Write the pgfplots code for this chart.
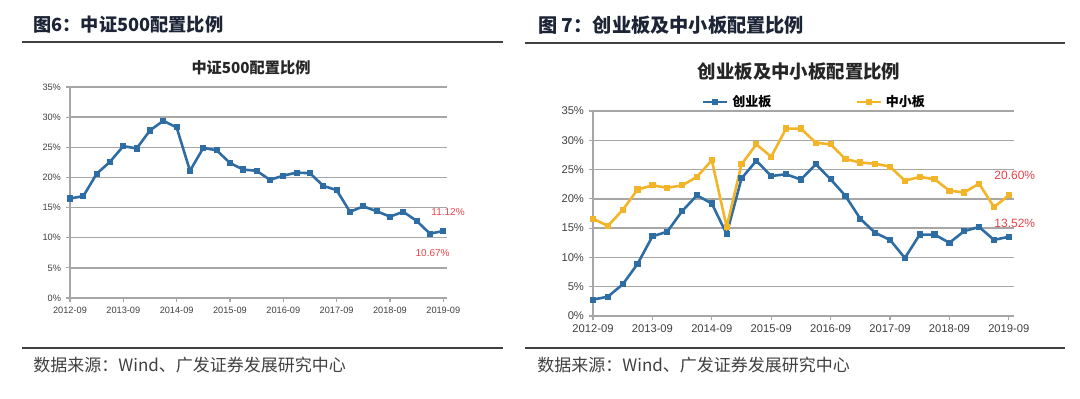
\documentclass[border=0pt]{standalone}
\usepackage{pgfplots}
\pgfplotsset{compat=1.18}
\usepackage{fontspec}
\setmainfont{Liberation Sans}
\newfontfamily\cjk{Noto Sans CJK SC}
\definecolor{lblue}{HTML}{2E6DA4}
\definecolor{lgold}{HTML}{F2B52A}
\definecolor{lred}{HTML}{E8424A}
\definecolor{gridc}{HTML}{A6A6A6}
\definecolor{tickc}{HTML}{404040}
\definecolor{headc}{HTML}{1C2435}
\begin{document}
\begin{tikzpicture}
\useasboundingbox (0,0) rectangle (540pt,199pt);
\pgfplotsset{
  myax/.style={
    scale only axis, clip=false,
    ymin=0, ymax=35, ytick={0,5,...,35},
    yticklabel={\pgfmathprintnumber{\tick}\%},
    xtick={0,4,...,28},
    xticklabels={2012-09,2013-09,2014-09,2015-09,2016-09,2017-09,2018-09,2019-09},
    axis x line*=bottom, axis y line*=left,
    axis line style={gridc, line width=0.7pt},
    tick style={gridc, line width=0.6pt},
    tick align=outside, major tick length=2pt,
    ymajorgrids, grid style={gridc, line width=0.7pt},
    /pgf/number format/assume math mode=true,
    ticklabel style={text=tickc},
    xticklabel style={yshift=1pt},
    yticklabel style={xshift=1pt},
  },
  myline/.style={line width=1.3pt, mark=square*, mark size=0.9pt, mark options={solid}},
}
% headers
\node[anchor=west, inner sep=0pt, text=headc, font=\cjk\bfseries\fontsize{9.1}{11}\selectfont] at (16.5pt,186.5pt) {图6：中证500配置比例};
\node[anchor=west, inner sep=0pt, text=headc, font=\cjk\bfseries\fontsize{9.6}{11}\selectfont] at (269pt,186.5pt) {图 7：创业板及中小板配置比例};
\draw[line width=1pt, black!75] (11pt,178pt) -- (251.5pt,178pt);
\draw[line width=1pt, black!75] (262.5pt,177.5pt) -- (532.5pt,177.5pt);
\draw[line width=1pt, black!75] (11pt,25pt) -- (251.5pt,25pt);
\draw[line width=1pt, black!75] (262.5pt,25pt) -- (532.5pt,25pt);
\node[anchor=west, inner sep=0pt, text=black!75, font=\cjk\fontsize{8.5}{10}\selectfont] at (16.5pt,16.5pt) {数据来源：Wind、广发证券发展研究中心};
\node[anchor=west, inner sep=0pt, text=black!75, font=\cjk\fontsize{8.5}{10}\selectfont] at (268.5pt,16.5pt) {数据来源：Wind、广发证券发展研究中心};
% chart titles
\node[text=black!85, font=\cjk\bfseries\fontsize{7.6}{9}\selectfont] at (125.5pt,165pt) {中证500配置比例};
\node[text=black!85, font=\cjk\bfseries\fontsize{9.2}{11}\selectfont] at (399.5pt,163pt) {创业板及中小板配置比例};

% left chart
\begin{axis}[myax, at={(35pt,50pt)}, anchor=south west,
  width=188.5pt, height=105.5pt, xmin=0, xmax=28.28,
  ticklabel style={font=\fontsize{4.6}{5}\selectfont}]
\addplot[myline, lblue] coordinates {
(0,16.5)(1,16.9)(2,20.6)(3,22.6)(4,25.2)(5,24.8)(6,27.8)(7,29.4)(8,28.3)
(9,21.1)(10,24.9)(11,24.5)(12,22.4)(13,21.3)(14,21.1)(15,19.6)(16,20.3)
(17,20.8)(18,20.7)(19,18.6)(20,17.9)(21,14.3)(22,15.2)(23,14.4)(24,13.5)
(25,14.3)(26,12.8)(27,10.67)(28,11.12)};
\node[text=lred, font=\fontsize{5}{6}\selectfont] at (axis cs:28.36,14.27) {11.12\%};
\node[text=lred, font=\fontsize{5}{6}\selectfont] at (axis cs:27.2,7.46) {10.67\%};
\end{axis}

% right chart
\begin{axis}[myax, at={(296.5pt,41pt)}, anchor=south west,
  width=210.5pt, height=102.5pt, xmin=0, xmax=28.35,
  ticklabel style={font=\fontsize{5.6}{6}\selectfont},
  legend columns=2,
  legend style={at={(0.528,1.044)}, anchor=center, draw=none, fill=none,
    font=\cjk\bfseries\fontsize{6.5}{7}\selectfont, inner sep=0pt,
    /tikz/every even column/.append style={column sep=40pt}},
  legend image code/.code={\draw[mark repeat=2,mark phase=2,#1] plot coordinates {(0pt,0pt) (6pt,0pt) (12pt,0pt)};}]
\addplot[myline, lblue] coordinates {
(0,2.8)(1,3.3)(2,5.4)(3,8.9)(4,13.6)(5,14.4)(6,17.9)(7,20.6)(8,19.2)
(9,14.0)(10,23.5)(11,26.5)(12,23.9)(13,24.2)(14,23.3)(15,25.9)(16,23.35)
(17,20.5)(18,16.6)(19,14.2)(20,13.0)(21,9.9)(22,13.9)(23,13.9)(24,12.5)
(25,14.5)(26,15.2)(27,13.0)(28,13.52)};
\addlegendentry{创业板}
\addplot[myline, lgold] coordinates {
(0,16.6)(1,15.4)(2,18.1)(3,21.6)(4,22.3)(5,21.9)(6,22.3)(7,23.75)(8,26.6)
(9,15.2)(10,25.9)(11,29.3)(12,27.2)(13,32.0)(14,32.0)(15,29.6)(16,29.3)
(17,26.8)(18,26.2)(19,26.0)(20,25.5)(21,23.1)(22,23.75)(23,23.35)(24,21.4)
(25,21.1)(26,22.6)(27,18.6)(28,20.6)};
\addlegendentry{中小板}
\node[text=lred, font=\fontsize{6}{7}\selectfont] at (axis cs:28.4,24.07) {20.60\%};
\node[text=lred, font=\fontsize{6}{7}\selectfont] at (axis cs:28.4,15.88) {13.52\%};
\end{axis}
\end{tikzpicture}
\end{document}
